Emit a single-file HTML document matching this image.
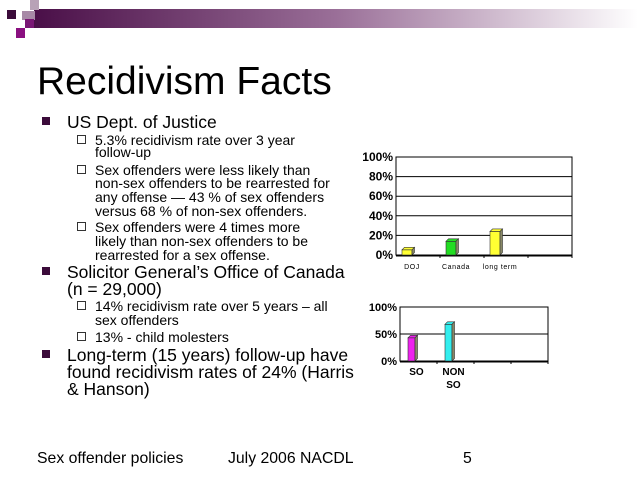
<!DOCTYPE html>
<html><head><meta charset="utf-8"><style>
body{margin:0;background:#fff;width:638px;height:479px;overflow:hidden}
svg{display:block;font-family:"Liberation Sans",Arial,sans-serif}
</style></head><body>
<svg id="s" width="638" height="479">
<defs><linearGradient id="g" x1="0" x2="1"><stop offset="0" stop-color="#4a0f48"/><stop offset="0.5" stop-color="#9a6f98"/><stop offset="1" stop-color="#fff"/></linearGradient></defs>
<g>
<rect x="34" y="9" width="604" height="19" fill="url(#g)"/>
<rect x="7" y="10" width="9" height="9" fill="#3b0b3a"/>
<rect x="30" y="0" width="9" height="10" fill="#b8a2b7"/>
<rect x="22" y="11" width="13" height="9" fill="#a789a6"/>
<rect x="25" y="19" width="9" height="9" fill="#7a1775"/>
<rect x="16" y="28" width="9" height="10" fill="#8a1080"/>
</g>
<text x="37" y="94" font-size="39" fill="#000">Recidivism Facts</text>
<g id="body" fill="#000"></g>
<g font-size="15.8">
<text x="37" y="463">Sex offender policies</text>
<text x="228" y="463">July 2006 NACDL</text>
<text x="463" y="463">5</text>
</g>
<g id="c1"></g>
<g id="c2"></g>
</svg>
<script>
const NS='http://www.w3.org/2000/svg';
function mk(p,t,a,txt){const e=document.createElementNS(NS,t);for(const k in a)e.setAttribute(k,a[k]);if(txt!=null)e.textContent=txt;p.appendChild(e);return e;}
const body=document.getElementById('body');
const lines=[
[1,128,'US Dept. of Justice'],
[2,145,'5.3% recidivism rate over 3 year'],[0,157,'follow-up'],
[2,175,'Sex offenders were less likely than'],[0,188,'non-sex offenders to be rearrested for'],[0,202,'any offense \u2014 43 % of sex offenders'],[0,216,'versus 68 % of non-sex offenders.'],
[2,232,'Sex offenders were 4 times more'],[0,246,'likely than non-sex offenders to be'],[0,260,'rearrested for a sex offense.'],
[1,278,'Solicitor General\u2019s Office of Canada'],[-1,295,'(n = 29,000)'],
[2,311,'14% recidivism rate over 5 years \u2013 all'],[0,325,'sex offenders'],
[2,342,'13% -  child molesters'],
[1,361,'Long-term (15 years) follow-up have'],[-1,378,'found recidivism rates of 24%  (Harris'],[-1,395,'& Hanson)']];
lines.forEach(([lv,y,t])=>{
 const sub=(lv===2||lv===0);
 const x=sub?95:67;
 if(lv===1){const r=mk(body,'rect',{x:42,y:y-11,width:8,height:8,fill:'#3b0b3a'});}
 if(lv===2){const r=mk(body,'rect',{x:77.5,y:y-9.5,width:8,height:8,fill:'none',stroke:'#000','stroke-width':0.8});}
 const e=mk(body,'text',{x:x,y:y,'font-size':sub?14:17.5},t);
 
 
});

// Chart 1 data
const c1Cats=['DOJ','Canada','long term',''];
const c1Vals=[5.3,14,24,0];
const c1Colors=['#ffff33','#22dd22','#ffff33',''];
const c1Ticks=['0%','20%','40%','60%','80%','100%'];
// Chart 2 data
const c2Cats=['SO','NON SO','',''];
const c2Vals=[43,68,0,0];
const c2Colors=['#ee22ee','#33eeee','',''];
const c2Ticks=['0%','50%','100%'];

function chart(g,cats,vals,colors,ticks,L,R,T,B,bw,boff,fs,labFs,bold){
 const y=v=>B-(v/100)*(B-T);
 const slot=(R-L)/cats.length;
 const x=i=>L+i*slot;
 ticks.forEach((t,i)=>{const v=i*100/(ticks.length-1);
  const ln=mk(g,'line',{x1:L,x2:R,y1:y(v),y2:y(v),stroke:'#000','stroke-width':1});
  
  const tl=mk(g,'text',{x:L-3,y:y(v)+4,'text-anchor':'end','font-size':fs,'font-weight':'bold'},t);
  });
 const fr=mk(g,'rect',{x:L,y:T,width:R-L,height:B-T,fill:'none',stroke:'#000','stroke-width':1});
 
 mk(g,'line',{x1:L,x2:R,y1:B+0.5,y2:B+0.5,stroke:'#000','stroke-width':2});
 cats.forEach((c,i)=>{
  const tk=mk(g,'line',{x1:x(i+1),x2:x(i+1),y1:B,y2:B+3,stroke:'#000'});
  
  if(vals[i]>0){
   const bx=x(i)+boff, top=y(vals[i]), d=2.5;
   const b=mk(g,'rect',{x:bx,y:top,width:bw,height:B-top,fill:colors[i],stroke:'#333','stroke-width':0.6});
   
   mk(g,'polygon',{points:`${bx},${top} ${bx+d},${top-d} ${bx+bw+d},${top-d} ${bx+bw},${top}`,fill:colors[i],stroke:'#333','stroke-width':0.6});
   mk(g,'polygon',{points:`${bx+bw},${top} ${bx+bw+d},${top-d} ${bx+bw+d},${B-d} ${bx+bw},${B}`,fill:'#888866',stroke:'#333','stroke-width':0.6});
  }
  if(c){const words=bold?c.split(' '):[c];
   words.forEach((w,j)=>{const t=mk(g,'text',{x:x(i)+slot/2-(bold?2:6),y:B+14+j*13,'text-anchor':'middle','font-size':labFs,'font-weight':bold?'bold':'normal','letter-spacing':bold?0:0.6},w);
    });}
 });
}
chart(document.getElementById('c1'),c1Cats,c1Vals,c1Colors,c1Ticks,396,572,157,255,10,6,12,7,false);
chart(document.getElementById('c2'),c2Cats,c2Vals,c2Colors,c2Ticks,400,548,307,361,7,8,11,10,true);
</script>
</body></html>
